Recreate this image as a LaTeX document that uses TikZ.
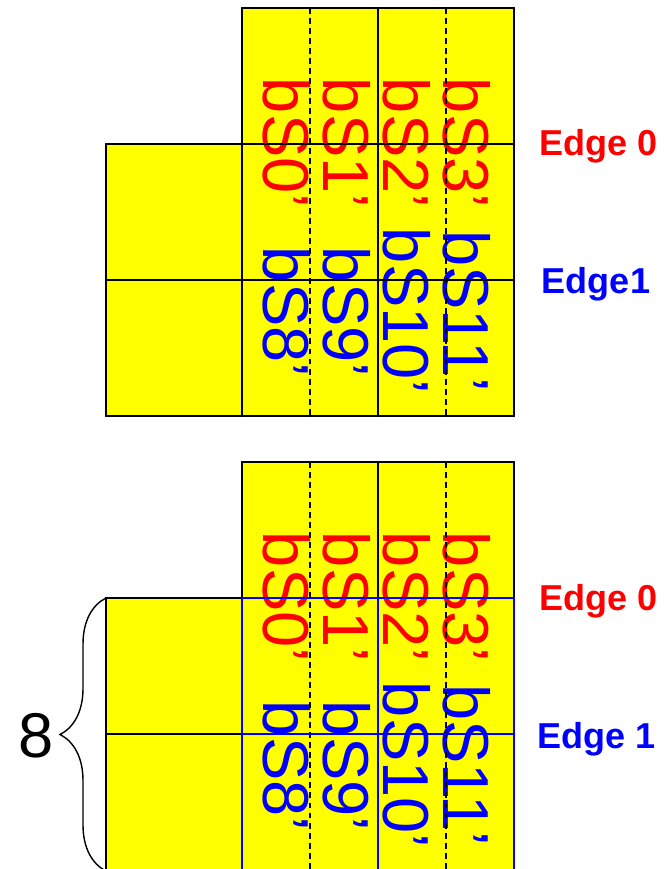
\documentclass[tikz,border=0pt]{standalone}
\usepackage{fontspec}
\setmainfont{Liberation Sans}
\usetikzlibrary{positioning, decorations.pathreplacing}
\definecolor{cyellow}{RGB}{255,255,0}
\definecolor{cred}{RGB}{255,0,0}
\definecolor{cblue}{RGB}{0,0,255}

\begin{document}
\begin{tikzpicture}[
    x=0.02cm, y=-0.02cm,
    cell/.style={fill=cyellow},
    grid/.style={draw=#1, line width=0.8pt},
    grid/.default=black,
    half/.style={draw=black, line width=0.8pt, dash pattern=on 3.4pt off 2.3pt},
    bsr/.style={rotate=-90, inner sep=0pt, text=cred, font=\fontsize{37}{42}\selectfont},
    bsb/.style={bsr, text=cblue},
    edgelbl/.style={anchor=base, inner sep=0pt, text=#1,
        font=\fontsize{20.5}{24}\selectfont\bfseries}
]
\useasboundingbox (0,0) rectangle (668,869);

%% Upper layout
\fill[cell] (242,8) rectangle (514,416);
\fill[cell] (106,144) rectangle (242,416);

\node[bsr] (a0) at (287,143) {bS0’};
\node[bsr] (a1) at (347,143) {bS1’};
\node[bsr] (a2) at (407,143) {bS2’};
\node[bsr] (a3) at (467,143) {bS3’};
\node[bsb] (a8)  at (287,312) {bS8’};
\node[bsb] (a9)  at (347,312) {bS9’};
\node[bsb] (a10) at (407,311) {bS10’};
\node[bsb] (a11) at (467,311) {bS11’};

\draw[half] (310,8) -- (310,416);
\draw[half] (446,8) -- (446,416);
\draw[grid] (242,8) rectangle (514,416);
\draw[grid] (106,144) rectangle (242,416);
\draw[grid] (378,8) -- (378,416);
\draw[grid] (106,144) -- (514,144);
\draw[grid] (106,280) -- (514,280);

\node[edgelbl=cred]  (ea0) at (599,155) {Edge 0};
\node[edgelbl=cblue] (ea1) at (596,293) {Edge1};

%% Lower layout, the edge rows outlined in blue
\fill[cell] (242,462) rectangle (514,870);
\fill[cell] (106,598) rectangle (242,870);

\node[bsr] (b0) at (287,597) {bS0’};
\node[bsr] (b1) at (347,597) {bS1’};
\node[bsr] (b2) at (407,597) {bS2’};
\node[bsr] (b3) at (467,597) {bS3’};
\node[bsb] (b8)  at (287,766) {bS8’};
\node[bsb] (b9)  at (347,766) {bS9’};
\node[bsb] (b10) at (407,765) {bS10’};
\node[bsb] (b11) at (467,765) {bS11’};

\draw[half] (310,462) -- (310,870);
\draw[half] (446,462) -- (446,870);
\draw[grid] (242,598) -- (242,462) -- (514,462) -- (514,598);
\draw[grid] (378,462) -- (378,598);
\draw[grid] (242,598) -- (106,598) -- (106,870);
\draw[grid] (106,734) -- (242,734);
\draw[grid=cblue] (242,598) rectangle (514,870);
\draw[grid=cblue] (242,734) -- (514,734);
\draw[grid=cblue] (378,598) -- (378,870);

\node[edgelbl=cred]  (eb0) at (599,610) {Edge 0};
\node[edgelbl=cblue] (eb1) at (597,748) {Edge 1};

%% Brace over the two rows
\coordinate (brlo) at (106,871);
\coordinate (brhi) at (106,598);
\draw[decorate, decoration={brace, amplitude=0.92cm}, line width=0.8pt] (brlo) -- (brhi);
\node[anchor=base, inner sep=0pt, font=\fontsize{36}{40}\selectfont] (cnt) at (36,757) {8};

\end{tikzpicture}
\end{document}
